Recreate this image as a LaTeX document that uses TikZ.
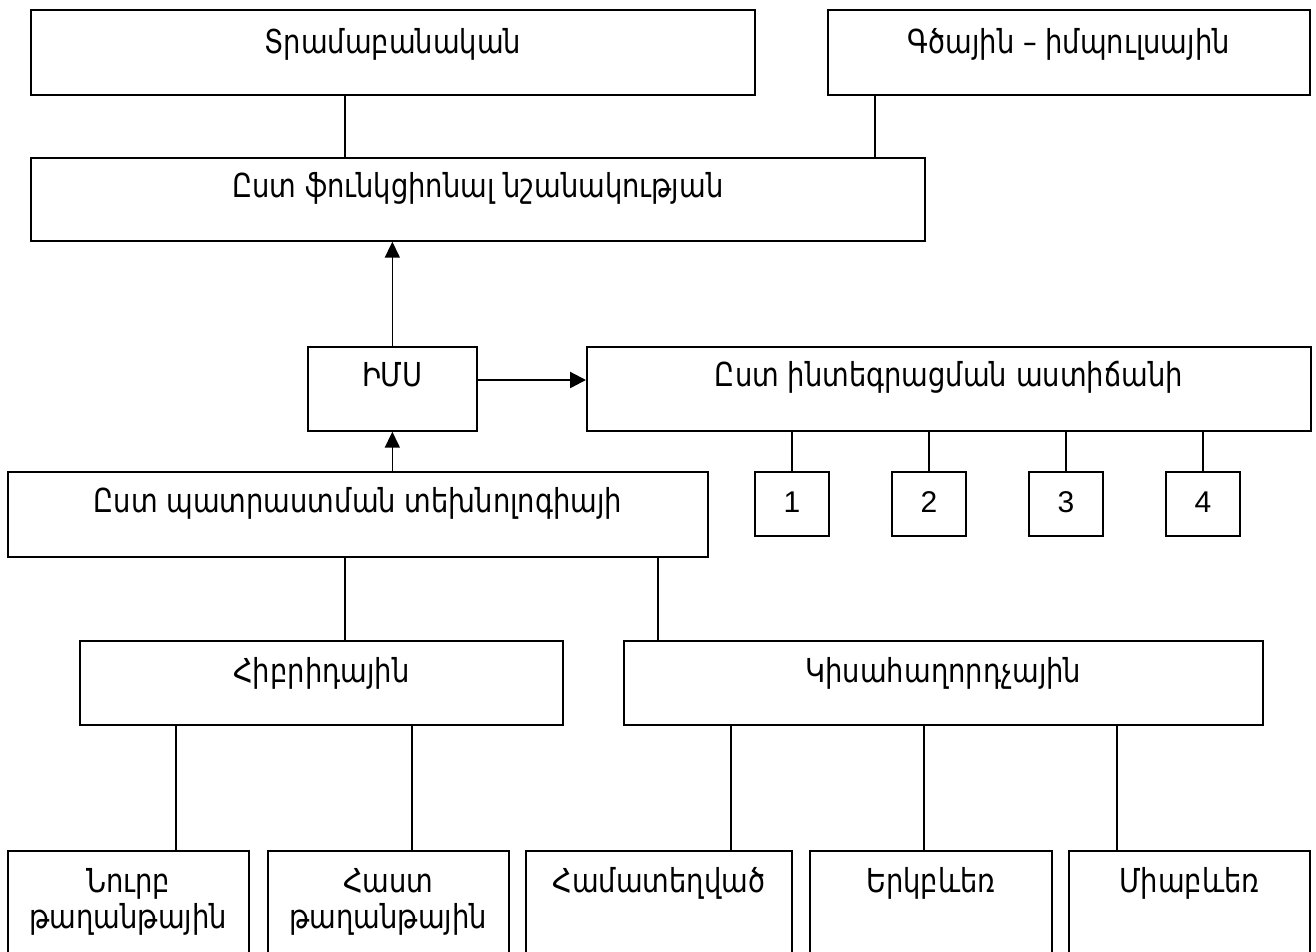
\documentclass[tikz,border=0pt]{standalone}
\usepackage{fontspec}
\setmainfont{DejaVu Sans}[FakeStretch=0.83]
\newfontfamily\digitfont{Liberation Sans}
\usetikzlibrary{arrows.meta}
\begin{document}
\begin{tikzpicture}[x=1pt,y=-1pt,
  box/.style={draw, line width=1.7pt, inner sep=0pt, anchor=north west,
    font=\fontsize{33}{36}\selectfont},
  conn/.style={line width=1.6pt},
  arr/.style={line width=1.7pt, -{Triangle[length=16pt,width=15pt]}},
  harr/.style={line width=2.3pt, -{Triangle[length=16pt,width=16pt]}}]
\clip (0,0) rectangle (1316,951);
% top row
\node[box, minimum width=724pt, text height=44pt, text depth=41pt] (A) at (30,9) {Տրամաբանական};
\node[box, minimum width=482pt, text height=44pt, text depth=41pt] (G) at (827,9) {Գծային – իմպուլսային};
\node[box, minimum width=894pt, text height=40pt, text depth=43pt] (B) at (30,157) {Ըստ ֆունկցիոնալ նշանակության};
% middle
\node[box, minimum width=169pt, text height=40pt, text depth=44pt] (I) at (307,346) {ԻՄՍ};
\node[box, minimum width=724pt, text height=40pt, text depth=44pt] (C) at (586,346) {Ըստ ինտեգրացման աստիճանի};
\node[box, minimum width=700pt, text height=41pt, text depth=44pt] (D) at (7,471) {Ըստ պատրաստման տեխնոլոգիայի};
\foreach \n/\x in {1/754,2/891,3/1028,4/1165}
  \node[box, font=\fontsize{30}{36}\digitfont, minimum width=74pt, text height=41pt, text depth=23pt] (N\n) at (\x,471) {\n};
% hybrid / semiconductor
\node[box, minimum width=483pt, text height=42pt, text depth=42pt] (E) at (79,640) {Հիբրիդային};
\node[box, minimum width=639pt, text height=42pt, text depth=42pt] (K) at (623,640) {Կիսահաղորդչային};
% bottom row
\node[box, minimum width=241pt, text height=42pt, text depth=160pt] (F1) at (7,850) {\begin{tabular}[t]{@{}c@{}}Նուրբ\\թաղանթային\end{tabular}};
\node[box, minimum width=241pt, text height=42pt, text depth=160pt] (F2) at (267,850) {\begin{tabular}[t]{@{}c@{}}Հաստ\\թաղանթային\end{tabular}};
\node[box, minimum width=266pt, text height=42pt, text depth=160pt] (F3) at (525,850) {Համատեղված};
\node[box, minimum width=242pt, text height=42pt, text depth=160pt] (F4) at (809,850) {Երկբևեռ};
\node[box, minimum width=241pt, text height=42pt, text depth=160pt] (F5) at (1068,850) {Միաբևեռ};
% connectors
\draw[conn] (A.south -| 345,0) -- (B.north -| 345,0);
\draw[conn] (G.south -| 875,0) -- (B.north -| 875,0);
\draw[arr] (I.north) -- (B.south -| I.north);
\draw[harr] (I.east |- 0,380) -- (C.west |- 0,380);
\draw[arr] (D.north -| I.south) -- (I.south);
\foreach \n in {1,2,3,4} \draw[conn] (C.south -| N\n.north) -- (N\n.north);
\draw[conn] (D.south -| 345,0) -- (E.north -| 345,0);
\draw[conn] (D.south -| 658,0) -- (K.north -| 658,0);
\draw[conn] (E.south -| 176,0) -- (F1.north -| 176,0);
\draw[conn] (E.south -| 412,0) -- (F2.north -| 412,0);
\draw[conn] (K.south -| 731,0) -- (F3.north -| 731,0);
\draw[conn] (K.south -| 924,0) -- (F4.north -| 924,0);
\draw[conn] (K.south -| 1117,0) -- (F5.north -| 1117,0);
\end{tikzpicture}
\end{document}
